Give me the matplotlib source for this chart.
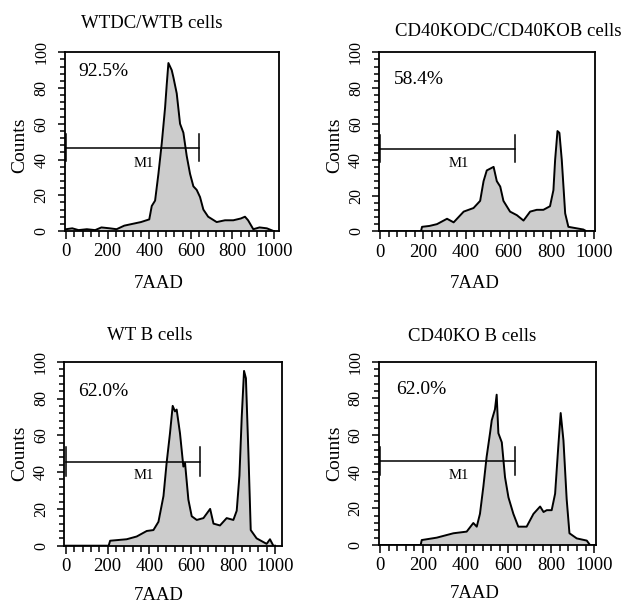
import matplotlib
matplotlib.use("Agg")
import matplotlib.pyplot as plt
import numpy as np

plt.rcParams['font.family'] = ['Liberation Serif', 'DejaVu Serif']

# ---- data ----
titles = ["WTDC/WTB cells", "CD40KODC/CD40KOB cells", "WT B cells", "CD40KO B cells"]
percents = ["92.5%", "58.4%", "62.0%", "62.0%"]
x_label = "7AAD"
y_label = "Counts"
marker_label = "M1"

wtdc_x = [0, 30, 60, 100, 140, 170, 210, 243, 280, 320, 360, 400, 412, 428, 444, 460, 476, 484, 492,
          500, 508, 516, 532, 548, 564, 580, 596, 612, 628, 644, 660, 683, 724, 764, 804, 840, 860,
          875, 900, 930, 965, 997, 1000]
wtdc_y = [1, 1.5, 0.5, 1, 0.5, 2, 1.5, 1, 3, 4, 5, 6.5, 14, 17, 32, 49, 69, 82, 94,
          92, 90, 86, 77, 60, 55, 42, 32, 25, 23, 19, 12, 8, 5, 6, 6, 7, 8,
          6, 1, 2, 1.5, 0, 0]

cd40dc_x = [0, 190, 195, 230, 265, 312, 343, 390, 436, 467, 483, 498, 514, 530, 545, 561, 576, 607,
            639, 670, 701, 732, 763, 794, 810, 818, 829, 838, 849, 865, 880, 903, 950, 965, 1000]
cd40dc_y = [0, 0, 2.5, 3, 4, 7, 5, 11, 13, 17, 28, 34, 35, 36, 28, 25, 17, 11,
            9, 6, 11, 12, 12, 14, 23, 40, 56, 55, 40, 10, 2.5, 2, 1, 0, 0]

wtb_x = [0, 205, 212, 291, 339, 387, 419, 443, 467, 482, 498, 511, 522, 530, 546, 562, 570, 586,
         602, 626, 658, 690, 706, 737, 769, 801, 817, 830, 841, 852, 861, 873, 884, 912, 944, 960,
         976, 992, 1000]
wtb_y = [0, 0, 2.7, 3.5, 5, 8, 8.5, 13, 27, 45, 61, 76, 73, 74, 61, 43, 45, 25,
         16, 14, 15, 20, 12, 11, 15, 14, 19, 38, 70, 95, 91, 50, 8.5, 4, 2, 1,
         3.5, 0, 0]

cd40b_x = [0, 190, 195, 265, 343, 405, 436, 452, 467, 483, 498, 514, 522, 537, 545, 553, 569, 584,
           600, 623, 646, 685, 717, 748, 764, 779, 802, 818, 833, 844, 857, 872, 885, 919, 966,
           981, 1000]
cd40b_y = [0, 0, 2.7, 4, 6.4, 7.3, 12, 10, 17, 32, 48, 61, 68, 74, 82, 61, 56, 37,
           26, 17, 10, 10, 17, 21, 18, 19, 19, 28, 54, 72, 57, 25, 6.4, 3.6, 2.4,
           0, 0]

gate_start = [0, 0, 0, 0]
gate_end = [640, 630, 643, 631]
gate_level = [46.5, 46, 45.5, 45.6]
percent_pos = [(58, 89), (65, 85), (58, 84), (75, 85)]
marker_text_pos = [(372, 38), (366, 38), (371, 38), (366, 38)]

series = [(wtdc_x, wtdc_y), (cd40dc_x, cd40dc_y), (wtb_x, wtb_y), (cd40b_x, cd40b_y)]

# ---- layout (pixels) ----
W, H = 640, 606
boxes = [  # left, right, top, bottom in pixels
    (65.0, 279.3, 52.3, 231.0),
    (379.3, 595.3, 52.3, 231.3),
    (64.3, 281.7, 361.7, 545.7),
    (378.7, 596.0, 361.7, 545.0),
]
xlims = [(-5, 1025), (-5, 1006), (-7, 1032), (-6, 1009)]
title_pos = [(152, 23), (508, 32), (150, 335), (472, 336)]
ylab_pos = [(20, 145), (335, 145), (20, 453), (335, 453)]
xlab_pos = [(159, 283), (475, 283), (159, 596), (475, 593)]

fig = plt.figure(figsize=(6.4, 6.06), dpi=100)

for i in range(4):
    l, r, t, b = boxes[i]
    ax = fig.add_axes([l / W, 1 - b / H, (r - l) / W, (b - t) / H])
    xs, ys = series[i]
    ax.fill_between(xs, ys, 0, color='#cccccc', linewidth=0)
    ax.plot(xs, ys, color='black', linewidth=1.4)
    ax.set_xlim(*xlims[i])
    ax.set_ylim(0, 100)

    # gate marker
    g0, g1, gl = gate_start[i], gate_end[i], gate_level[i]
    ax.plot([g0, g1], [gl, gl], color='black', linewidth=1.1)
    ax.plot([g0, g0], [gl - 7.5, gl + 8], color='black', linewidth=1.1)
    ax.plot([g1, g1], [gl - 7.5, gl + 8], color='black', linewidth=1.1)
    mx, my = marker_text_pos[i]
    ax.text(mx, my, marker_label, fontsize=10.5, ha='center', va='center')

    px, py = percent_pos[i]
    ax.text(px, py, percents[i], fontsize=14, ha='left', va='center')

    ax.set_xticks(np.arange(0, 1001, 200))
    ax.set_xticks(np.arange(0, 1001, 40), minor=True)
    ax.set_yticks(np.arange(0, 101, 20))
    ax.set_yticks(np.arange(0, 101, 4), minor=True)
    ax.tick_params(axis='x', which='major', direction='out', length=6, width=1.1, labelsize=13.5, pad=3)
    ax.tick_params(axis='x', which='minor', direction='out', length=4, width=1.1)
    ax.tick_params(axis='y', which='major', direction='out', length=5, width=1.1, labelsize=11.5, pad=6)
    ax.tick_params(axis='y', which='minor', direction='out', length=3.5, width=1.1)
    for lab in ax.get_yticklabels():
        lab.set_rotation(90)
        lab.set_va('center')
    for sp in ax.spines.values():
        sp.set_linewidth(1.3)

    tx, ty = title_pos[i]
    fig.text(tx / W, 1 - ty / H, titles[i], fontsize=13.5, ha='center', va='center')
    yx, yy = ylab_pos[i]
    fig.text(yx / W, 1 - yy / H, y_label, fontsize=14, rotation=90, ha='center', va='center')
    xx, xy = xlab_pos[i]
    fig.text(xx / W, 1 - xy / H, x_label, fontsize=13.5, ha='center', va='center')

fig.savefig("out.png", dpi=100)
